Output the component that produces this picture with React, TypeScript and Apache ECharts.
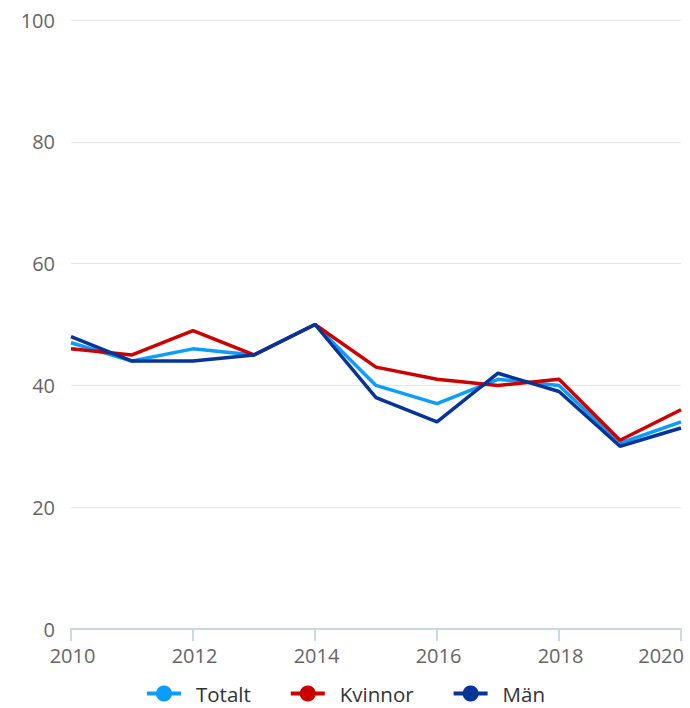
import React, { useEffect, useRef } from "react";
import * as echarts from "echarts";

const years = [2010, 2011, 2012, 2013, 2014, 2015, 2016, 2017, 2018, 2019, 2020];
const totalt = [47, 44, 46, 45, 50, 40, 37, 41, 40, 30.5, 34];
const kvinnor = [46, 45, 49, 45, 50, 43, 41, 40, 41, 31, 36];
const man = [48, 44, 44, 45, 50, 38, 34, 42, 39, 30, 33];
const seriesNames = ["Totalt", "Kvinnor", "Män"];
const colors = ["#0a9dfb", "#cc0000", "#073497"];

export default function App() {
  const ref = useRef<HTMLDivElement>(null);
  useEffect(() => {
    if (!ref.current) return;
    const chart = echarts.init(ref.current, null, { renderer: "svg" });
    const data = [totalt, kvinnor, man];
    chart.setOption({
      animation: false,
      textStyle: { fontFamily: "Open Sans" },
      grid: {
        left: 71,
        right: 9,
        top: 20,
        bottom: 79,
        containLabel: false,
        outerBoundsMode: "none",
      },
      legend: {
        top: 683,
        left: "center",
        padding: 0,
        itemWidth: 34,
        itemHeight: 20,
        itemGap: 38,
        lineStyle: { width: 4 },
        textStyle: {
          fontSize: 20.5,
          lineHeight: 20,
          color: "#333333",
          fontFamily: "Open Sans",
          padding: [0, 0, 0, 10],
        },
        data: seriesNames,
      },
      xAxis: {
        type: "value",
        min: 2010,
        max: 2020,
        interval: 2,
        axisLine: { lineStyle: { color: "#ccd6eb", width: 2 } },
        axisTick: { show: true, length: 12, lineStyle: { color: "#ccd6eb", width: 2 } },
        axisLabel: {
          color: "#666666",
          fontSize: 20,
          margin: 16,
          fontFamily: "Open Sans",
          alignMaxLabel: "right",
          padding: [0, -3, 0, 0],
          formatter: (v: number) => String(v),
        },
        splitLine: { show: false },
      },
      yAxis: {
        type: "value",
        min: 0,
        max: 100,
        interval: 20,
        axisLine: { show: false },
        axisTick: { show: false },
        axisLabel: { color: "#666666", fontSize: 20, margin: 16, fontFamily: "Open Sans" },
        splitLine: { lineStyle: { color: "#e6e6e6", width: 1 } },
      },
      series: seriesNames.map((name, i) => ({
        name,
        type: "line",
        data: years.map((y, j) => [y, data[i][j]]),
        symbol: "circle",
        symbolSize: 14,
        showSymbol: false,
        lineStyle: { width: 3.5, color: colors[i] },
        itemStyle: { color: colors[i] },
      })),
    });
    return () => chart.dispose();
  }, []);
  return (
    <div
      ref={ref}
      style={{ position: "absolute", left: 0, top: 0, width: 690, height: 708 }}
    />
  );
}
